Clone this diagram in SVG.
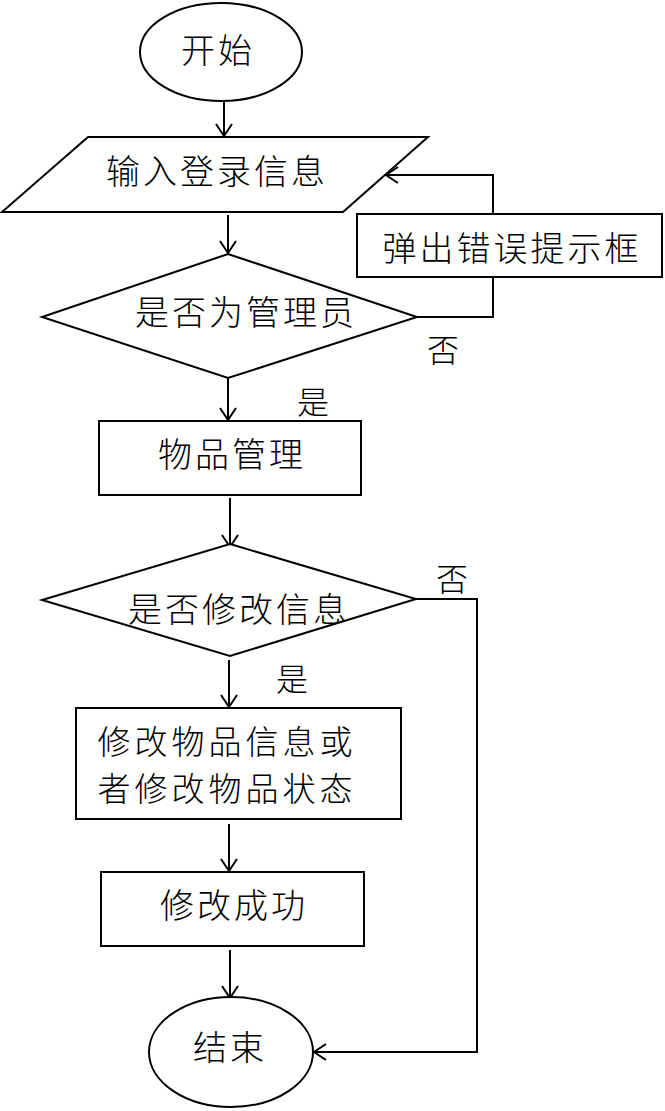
<svg xmlns="http://www.w3.org/2000/svg" width="665" height="1111" viewBox="0 0 665 1111">
<defs>
<style>
.s{fill:#fff;stroke:#000;stroke-width:2}
.c{fill:none;stroke:#000;stroke-width:2}
.t{font-family:"Noto Sans CJK SC","Noto Sans",sans-serif;font-size:34px;font-weight:300;fill:#000;text-anchor:middle;dominant-baseline:central;letter-spacing:3px}
.m{font-size:33px;letter-spacing:4px}
.l{font-family:"Noto Sans CJK SC","Noto Sans",sans-serif;font-size:32px;font-weight:300;fill:#000;text-anchor:middle;dominant-baseline:central}
</style>
<marker id="a" markerUnits="userSpaceOnUse" markerWidth="20" markerHeight="20" refX="13" refY="9" orient="auto">
<path d="M1,1 L13,9 L1,17" fill="none" stroke="#000" stroke-width="2"/>
</marker>
</defs>
<g id="connectors">
<line class="c" x1="224" y1="101" x2="224" y2="136" marker-end="url(#a)"/>
<line class="c" x1="228" y1="215" x2="228" y2="253" marker-end="url(#a)"/>
<polyline class="c" points="417,317 493,317 493,277"/>
<polyline class="c" points="493,214 493,175 386,175" marker-end="url(#a)"/>
<line class="c" x1="228" y1="378" x2="228" y2="420" marker-end="url(#a)"/>
<line class="c" x1="230" y1="498" x2="230" y2="547" marker-end="url(#a)"/>
<polyline class="c" points="416,599 477,599 477,1052 314,1052" marker-end="url(#a)"/>
<line class="c" x1="229" y1="660" x2="229" y2="707" marker-end="url(#a)"/>
<line class="c" x1="229" y1="824" x2="229" y2="871" marker-end="url(#a)"/>
<line class="c" x1="230" y1="950" x2="230" y2="998" marker-end="url(#a)"/>
<text class="l" x="443" y="348">否</text>
<text class="l" x="313" y="400">是</text>
<text class="l" x="452" y="577">否</text>
<text class="l" x="292" y="677">是</text>
</g>
<g id="start">
<ellipse class="s" cx="221" cy="52" rx="81" ry="49"/>
<text class="t" x="218" y="48">开始</text>
</g>
<g id="input">
<polygon class="s" points="88,137 428,137 343,212 2,212"/>
<text class="t" x="217" y="169">输入登录信息</text>
</g>
<g id="error">
<rect class="s" x="357" y="214" width="305" height="63"/>
<text class="t" x="512" y="246">弹出错误提示框</text>
</g>
<g id="isAdmin">
<polygon class="s" points="228,254 417,317 228,378 42,317"/>
<text class="t" x="246" y="310">是否为管理员</text>
</g>
<g id="itemManage">
<rect class="s" x="99" y="421" width="262" height="74"/>
<text class="t" x="232" y="452">物品管理</text>
</g>
<g id="isModify">
<polygon class="s" points="230,544 416,599 230,656 42,600"/>
<text class="t" x="239" y="607">是否修改信息</text>
</g>
<g id="modify">
<rect class="s" x="76" y="708" width="325" height="111"/>
<text class="t m" x="227" y="740">修改物品信息或</text>
<text class="t m" x="227" y="787">者修改物品状态</text>
</g>
<g id="success">
<rect class="s" x="101" y="872" width="263" height="74"/>
<text class="t" x="234" y="903">修改成功</text>
</g>
<g id="end">
<ellipse class="s" cx="231" cy="1052" rx="82" ry="55"/>
<text class="t" x="230" y="1045">结束</text>
</g>
</svg>
